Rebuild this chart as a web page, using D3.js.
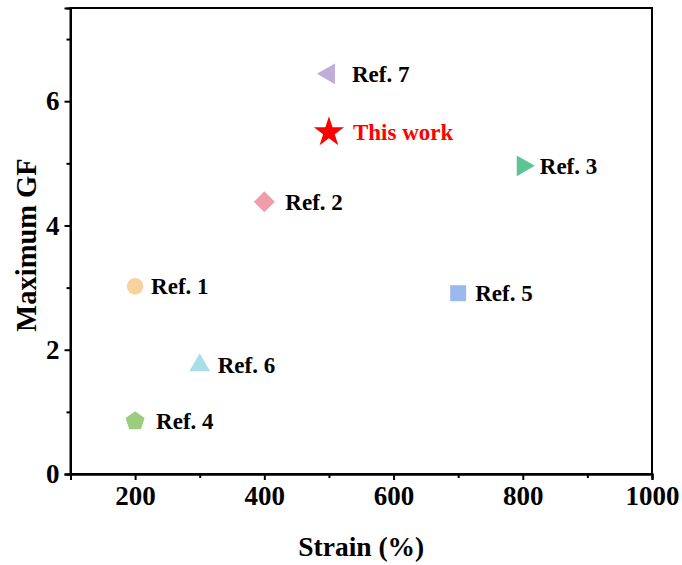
<!DOCTYPE html>
<html><head><meta charset="utf-8">
<script src="https://cdn.jsdelivr.net/npm/d3@7"></script>
<style>body{margin:0;background:#fff}svg{display:block}</style>
</head><body>
<script>
const labels = ["Ref. 1","Ref. 2","Ref. 3","Ref. 4","Ref. 5","Ref. 6","Ref. 7","This work"];
const strain = [200, 400, 800, 200, 700, 300, 500, 500];
const gf = [3.02, 4.38, 4.96, 0.85, 2.91, 1.75, 6.44, 5.5];
const shapes = ["circle","diamond","triRight","pentagon","square","triUp","triLeft","star"];
const colors = ["#f8d29e","#ef9dab","#5cc495","#9ccc7e","#9bb9ef","#a9dde7","#bfaed7","#ff0000"];
const xTicks = [200,400,600,800,1000];
const yTicks = [0,2,4,6];

const W=682,H=565;
const m={l:70.5,r:30,t:8,b:91};
const svg=d3.select("body").append("svg").attr("width",W).attr("height",H);
const x=d3.scaleLinear().domain([100,1000]).range([m.l,W-m.r]);
const y=d3.scaleLinear().domain([0,7.5]).range([H-m.b,m.t]);
const font="'Liberation Serif','Times New Roman',serif";

svg.append("rect").attr("x",x(100)).attr("y",y(7.5)).attr("width",x(1000)-x(100)).attr("height",y(0)-y(7.5))
  .attr("fill","none").attr("stroke","#000").attr("stroke-width",2);

const xa=svg.append("g").attr("transform",`translate(0,${y(0)})`)
  .call(d3.axisBottom(x).tickValues(xTicks).tickSize(6).tickPadding(6).tickFormat(d3.format("d")));
const xm=svg.append("g").attr("transform",`translate(0,${y(0)})`)
  .call(d3.axisBottom(x).tickValues([100,300,500,700,900]).tickSize(4).tickFormat(""));
const ya=svg.append("g").attr("transform",`translate(${x(100)},0)`)
  .call(d3.axisLeft(y).tickValues(yTicks).tickSize(6).tickPadding(5).tickFormat(d3.format("d")));
const ym=svg.append("g").attr("transform",`translate(${x(100)},0)`)
  .call(d3.axisLeft(y).tickValues([1,3,5,7]).tickSize(4).tickFormat(""));
[xa,xm,ya,ym].forEach(g=>{
  g.select(".domain").attr("stroke-width",2);
  g.selectAll(".tick line").attr("stroke-width",2);
  g.selectAll("text").attr("font-family",font).attr("font-weight","bold").attr("font-size",27).attr("fill","#000");
});

svg.append("text").attr("x",(x(100)+x(1000))/2).attr("y",556).attr("text-anchor","middle")
  .attr("font-family",font).attr("font-weight","bold").attr("font-size",27.5).text("Strain (%)");
svg.append("text").attr("transform",`translate(36,${(y(0)+y(7.5))/2 + 4}) rotate(-90)`).attr("text-anchor","middle")
  .attr("font-family",font).attr("font-weight","bold").attr("font-size",28.5).text("Maximum GF");

const tri = (a,r)=>{const p=[];for(let i=0;i<3;i++){const t=a+i*2*Math.PI/3;p.push([r*Math.cos(t),r*Math.sin(t)]);}return "M"+p.join("L")+"Z";};
const symDefs = {
  circle:  {d:()=>d3.symbol(d3.symbolCircle,216)(), off:16},
  diamond: {d:()=>"M0,-10.5L10.5,0L0,10.5L-10.5,0Z", off:21},
  square:  {d:()=>"M-8,-8H8V8H-8Z", off:17},
  triRight:{d:()=>tri(0,12), off:17},
  triLeft: {d:()=>tri(Math.PI,12), off:23},
  triUp:   {d:()=>tri(-Math.PI/2,12), off:18},
  pentagon:{d:()=>{const p=[];for(let i=0;i<5;i++){const t=-Math.PI/2+i*2*Math.PI/5;p.push([10*Math.cos(t),10*Math.sin(t)]);}return "M"+p.join("L")+"Z";}, off:21},
  star:    {d:()=>d3.symbol(d3.symbolStar,285)(), off:24}
};
const pts=svg.append("g").selectAll("g").data(labels).join("g")
  .attr("transform",(d,i)=>`translate(${x(strain[i])},${y(gf[i])})`);
pts.append("path").attr("d",(d,i)=>symDefs[shapes[i]].d()).attr("fill",(d,i)=>colors[i]);
pts.append("text").attr("x",(d,i)=>symDefs[shapes[i]].off).attr("y",8)
  .attr("font-family",font).attr("font-weight","bold").attr("font-size",23)
  .attr("fill",(d,i)=>shapes[i]==="star"?"#ff0000":"#000").text(d=>d);
</script>
</body></html>
